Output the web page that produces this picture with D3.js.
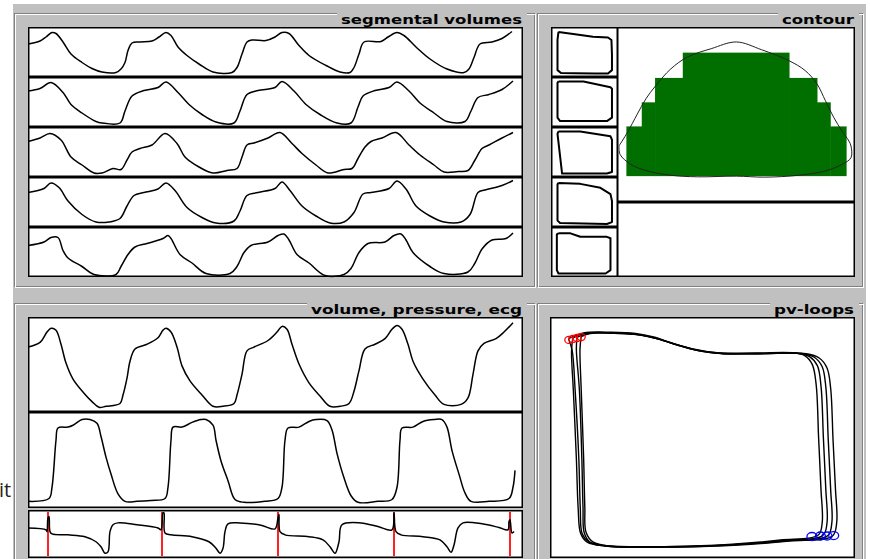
<!DOCTYPE html>
<html lang="en">
<head>
<meta charset="UTF-8">
<title>segmental volumes</title>
<script src="https://cdnjs.cloudflare.com/ajax/libs/d3/7.8.5/d3.min.js"></script>
<style>
    html, body {
        margin: 0;
        padding: 0;
        background: #fff;
    }

    svg {
        display: block;
    }

    .title {
        font-family: "DejaVu Sans", sans-serif;
        font-weight: bold;
        font-size: 12.5px;
    }
</style>
</head>
<body>
<script>
    // traces: [sample, % of channel range]
    let seg1 = [[0,66],[12,72],[18,80],[24,89],[28,87],[35,70],[43,46],[54,29],[64,17],[74,10],[88,9],[93,16],[97,29],[100,53],[104,68],[112,70],[124,72],[131,80],[138,89],[143,83],[150,60],[159,43],[171,26],[185,10],[204,9],[209,19],[214,46],[219,70],[224,74],[238,73],[247,80],[254,89],[261,87],[271,63],[281,43],[298,23],[312,10],[322,9],[326,19],[331,46],[336,70],[353,71],[360,80],[369,89],[376,83],[388,60],[402,36],[419,16],[436,9],[441,16],[446,39],[452,66],[464,70],[474,77],[484,91]];
    let seg2 = [[0,72],[12,77],[23,89],[35,69],[43,45],[54,28],[68,11],[74,8],[92,8],[97,32],[104,62],[116,73],[130,79],[138,90],[150,69],[161,45],[174,25],[188,10],[206,8],[212,32],[219,65],[230,73],[247,79],[254,91],[266,72],[278,45],[292,25],[309,8],[323,8],[330,40],[335,62],[347,73],[361,79],[369,90],[381,72],[392,48],[406,28],[419,11],[437,11],[443,32],[450,59],[461,65],[474,75],[485,92]];
    let seg3 = [[0,71],[12,78],[22,87],[33,74],[43,40],[54,24],[66,8],[74,8],[85,17],[93,15],[99,34],[104,50],[112,57],[124,64],[137,87],[149,67],[157,40],[171,20],[185,8],[199,13],[209,17],[214,40],[219,64],[226,68],[240,78],[252,89],[264,67],[274,47],[288,24],[300,8],[316,15],[324,17],[330,37],[337,60],[343,71],[354,78],[368,89],[381,64],[392,44],[406,24],[416,10],[430,11],[440,13],[447,34],[454,57],[461,64],[474,78],[485,89]];
    let seg4 = [[0,69],[16,77],[23,88],[31,79],[40,52],[54,25],[68,10],[81,10],[92,17],[99,42],[106,63],[116,69],[130,76],[138,88],[147,73],[159,39],[174,19],[188,8],[206,12],[212,32],[219,63],[230,69],[247,77],[254,90],[262,73],[274,42],[288,22],[302,8],[316,10],[326,29],[335,66],[343,69],[361,77],[369,92],[378,76],[388,42],[402,22],[416,10],[433,10],[442,25],[450,69],[457,74],[474,83],[485,93]];
    let seg5 = [[0,63],[16,70],[23,79],[30,79],[35,53],[40,38],[54,21],[66,5],[88,5],[93,21],[100,45],[107,60],[119,67],[135,77],[140,83],[143,77],[152,45],[164,28],[178,7],[202,7],[209,21],[216,49],[223,63],[240,70],[250,83],[256,86],[261,74],[269,45],[281,28],[297,3],[316,5],[323,17],[331,49],[340,67],[357,70],[366,83],[373,86],[378,74],[385,49],[402,21],[416,7],[440,10],[447,28],[454,56],[464,74],[478,77],[485,88]];

    let volume = [[0,68],[12,73],[19,84],[23,88],[28,86],[33,71],[38,51],[45,34],[56,19],[64,10],[71,4],[78,5],[92,8],[95,17],[99,35],[102,53],[107,66],[119,71],[130,78],[135,86],[138,88],[143,84],[149,68],[154,48],[162,32],[174,17],[185,5],[195,5],[206,8],[209,17],[214,39],[219,64],[226,68],[240,75],[249,84],[254,90],[259,87],[264,71],[271,50],[281,30],[292,16],[302,5],[312,5],[321,8],[326,21],[331,43],[337,66],[347,71],[357,77],[364,87],[369,91],[374,87],[380,71],[385,53],[395,34],[407,17],[416,7],[433,7],[440,14],[445,39],[450,64],[456,72],[468,77],[476,84],[485,94]];
    let pressure = [[0,6],[21,9],[24,21],[28,71],[30,84],[40,85],[45,87],[54,93],[62,93],[69,89],[73,75],[78,53],[83,35],[90,14],[97,6],[109,6],[123,7],[137,9],[140,21],[143,71],[145,85],[154,85],[164,90],[173,93],[178,93],[185,87],[188,71],[193,49],[200,28],[207,8],[216,5],[237,6],[250,9],[254,21],[257,71],[260,84],[271,85],[281,91],[288,93],[299,92],[304,82],[309,57],[316,31],[323,12],[330,5],[350,6],[364,8],[369,21],[372,71],[374,84],[385,85],[395,91],[406,93],[414,93],[419,85],[424,60],[431,35],[437,15],[443,6],[461,6],[481,9],[485,21],[487,39]];
    let ecg = [[0,61],[18,57],[19,53],[20,83],[21,86],[22,53],[24,48],[40,46],[57,42],[68,31],[73,20],[77,6],[80,9],[82,53],[85,68],[90,72],[109,68],[130,61],[133,57],[135,94],[136,94],[137,50],[143,46],[164,42],[181,31],[188,17],[192,6],[195,17],[197,53],[200,70],[212,72],[233,67],[247,59],[250,83],[251,90],[252,53],[257,46],[281,42],[295,35],[302,20],[307,6],[311,31],[314,68],[333,72],[350,64],[364,57],[366,94],[368,53],[373,46],[395,42],[412,35],[419,20],[423,8],[426,24],[430,61],[435,72],[454,70],[471,62],[480,57],[481,75],[482,79],[484,50],[486,53]];
    let rWaves = [20, 134, 250, 366, 482];

    // pv-loops: [volume %, pressure %], one per beat
    let pvLoop1 = [[5.8,91.3],[10.8,93.7],[20,94],[28,93.5],[34,92],[40,89.5],[47,87],[55,85.4],[68,85.3],[80,85.4],[84,84.2],[86.5,80.5],[87.8,72],[88.6,50],[89.4,28],[89.8,14],[88.5,8.8],[76,6.7],[60,5],[40,4],[18.5,4.3],[12.5,6],[10.3,9.5],[9.7,20.2],[9.2,41.3],[8,69.5],[7,86.4],[5.8,91.3]];
    let pvLoop2 = [[7.2,91.6],[11.5,93.6],[20,93.8],[28,93.2],[35,91.4],[41,89],[48,86.6],[56,85.2],[68,85.1],[81.5,85.2],[85.6,83.8],[88.2,80],[89.4,71.5],[90.2,49.5],[91,28],[91.4,14],[90,8.6],[77,6.5],[60,4.8],[40,3.9],[18,4.2],[12,5.8],[9.8,9.6],[9,20],[8.4,41],[7.4,69.5],[6.8,86],[7.2,91.6]];
    let pvLoop3 = [[8.6,91.9],[12,93.5],[20,93.6],[29,93],[36,91],[42,88.6],[49,86.2],[57,85],[69,85],[83,85.1],[87.2,83.5],[89.8,79.5],[91,71],[91.8,49],[92.6,28],[93,14],[91.6,8.5],[78,6.4],[61,4.7],[41,3.8],[19,4.1],[13,5.7],[11,9.8],[10.6,20.4],[10.2,41.5],[9.4,69.8],[8.4,86.8],[8.6,91.9]];
    let pvLoop4 = [[10,92.2],[13,93.5],[21,93.6],[30,92.8],[37,90.6],[43,88.2],[50,86],[58,85],[70,85],[84.5,85],[88.8,83.2],[91.4,79],[92.6,70.5],[93.4,48.5],[94.2,28],[94.6,14],[93.2,8.4],[79,6.3],[62,4.6],[42,3.8],[20,4.1],[14,5.8],[11.6,10],[11.2,20.5],[10.8,41.5],[10,70],[9.6,87],[10,92.2]];
    let endSystole = [[5.9,90.8],[7.2,91.2],[8.6,91.6],[10,92]];
    let endDiastole = [[86.4,8.2],[89.2,8.4],[91.4,8.4],[93.6,8.6]];

    // small segmental loops next to the contour
    let segLoop1 = [[11.5,90],[37,85],[64.6,80],[87.7,78.6],[93,73.5],[93.8,43],[93.8,12],[87.7,5],[67.7,5],[37,5.5],[15.4,6],[10,12],[10,43],[10,73.5],[11.5,90]];
    let segLoop2 = [[11.5,91],[50,91],[91.5,79],[93.8,76],[93.8,17],[86,10],[14,10],[10,17],[10,88],[11.5,91]];
    let segLoop3 = [[11.5,91],[45,91],[91.5,81],[93.8,74],[93.8,8],[86,5],[17,5],[16.8,8],[10,86],[11.5,91]];
    let segLoop4 = [[11.5,88],[45,86],[76,78],[91.5,65],[93.8,51],[93.8,8],[86,4],[14,6],[10,11],[10,85],[11.5,88]];
    let segLoop5 = [[11.5,87],[30,87],[45,80],[86,80],[91.5,77],[91.5,12],[84,5],[11.5,5],[9,12],[9,85],[11.5,87]];

    // contour: outline and wall steps
    let contourLine = [[0.4,30.8],[4,38.6],[8.3,49.4],[11.9,58.1],[16.2,65.9],[22.7,75.7],[29.9,82.6],[40,87.4],[50.8,91.3],[61.6,86.8],[73.1,80.6],[80.3,74.7],[85.4,66.9],[89,57.2],[92.6,47.4],[96.1,39.6],[99.1,33.7],[100,30.8],[100,24],[96.1,20.1],[89,16.3],[77.5,13.8],[63,12.7],[50.8,13.3],[34.2,12.9],[22.7,13.8],[12.6,16.3],[5.5,20.1],[0.9,25.9],[0.4,30.8]];
    let stepEdges = [3.6, 10.2, 15.9, 27.8, 73.4, 85.4, 91.1, 97.9];
    let stepHeights = [42.2, 56.2, 70.4, 85.1, 70.4, 56.2, 42.2];
    let stepBase = 13.3;

    let titles = ["segmental volumes", "contour", "volume, pressure, ecg", "pv-loops"];

    let width = 870, height = 559;
    let svg = d3.select("body").append("svg").attr("width", width).attr("height", height);

    svg.append("rect").attr("x", 13).attr("y", 4).attr("width", 853).attr("height", 560).attr("fill", "#c0c0c0");

    function groove(x0, y0, x1, y1) {
        svg.append("rect").attr("x", x0 + 0.5).attr("y", y0 + 0.5).attr("width", x1 - x0 - 1).attr("height", y1 - y0 - 1)
            .attr("fill", "none").attr("stroke", "#808080");
        svg.append("rect").attr("x", x0 + 1.5).attr("y", y0 + 1.5).attr("width", x1 - x0 - 1).attr("height", y1 - y0 - 1)
            .attr("fill", "none").attr("stroke", "#fff");
    }

    function title(text, xStart, xEnd, baseline) {
        svg.append("rect").attr("x", xStart - 4).attr("y", baseline - 12).attr("width", xEnd - xStart + 9).attr("height", 8)
            .attr("fill", "#c0c0c0");
        svg.append("text").attr("class", "title").attr("x", xStart).attr("y", baseline)
            .attr("textLength", xEnd - xStart).attr("lengthAdjust", "spacingAndGlyphs").text(text);
    }

    function box(x0, y0, x1, y1) {
        svg.append("rect").attr("x", x0 + 0.75).attr("y", y0 + 0.75).attr("width", x1 - x0 - 1.5).attr("height", y1 - y0 - 1.5)
            .attr("fill", "#fff").attr("stroke", "#000").attr("stroke-width", 1.5);
    }

    groove(14, 13, 535, 287);
    groove(537, 13, 863, 287);
    groove(14, 303, 535, 580);
    groove(537, 303, 863, 580);

    title(titles[0], 341, 522, 23.5);
    title(titles[1], 782, 854, 23.5);
    title(titles[2], 311, 522, 313.5);
    title(titles[3], 774, 854, 313.5);

    let time = d3.scaleLinear().domain([0, 494]).range([28, 522]);
    let smooth = d3.curveCatmullRom.alpha(0.5);

    function trace(data, top, bottom) {
        let y = d3.scaleLinear().domain([0, 100]).range([bottom, top]);
        svg.append("path").datum(data)
            .attr("d", d3.line().curve(smooth).x(d => time(d[0])).y(d => y(d[1])))
            .attr("fill", "none").attr("stroke", "#000").attr("stroke-width", 1.5).attr("stroke-linejoin", "round");
    }

    // segmental volumes
    let segTops = [27, 77, 127, 177, 227];
    let segs = [seg1, seg2, seg3, seg4, seg5];
    segTops.forEach(top => box(28, top, 523, top + 50));
    segTops.forEach((top, i) => trace(segs[i], top, top + 50));

    // small loops
    let segLoops = [segLoop1, segLoop2, segLoop3, segLoop4, segLoop5];
    let loopX = d3.scaleLinear().domain([0, 100]).range([551, 616]);
    segTops.forEach(top => box(551, top, 618, top + 50));
    segTops.forEach((top, i) => {
        let loopY = d3.scaleLinear().domain([0, 100]).range([top + 49, top]);
        svg.append("path").datum(segLoops[i])
            .attr("d", d3.line().x(d => loopX(d[0])).y(d => loopY(d[1])))
            .attr("fill", "none").attr("stroke", "#000").attr("stroke-width", 2).attr("stroke-linejoin", "round");
    });

    // contour
    box(617, 27, 855, 202);
    box(617, 202, 855, 277);
    svg.append("clipPath").attr("id", "contourClip").append("rect")
        .attr("x", 618.5).attr("y", 28.5).attr("width", 235).attr("height", 172);
    let cx = d3.scaleLinear().domain([0, 100]).range([618, 851]);
    let cy = d3.scaleLinear().domain([0, 100]).range([199, 27]);
    let cg = svg.append("g").attr("clip-path", "url(#contourClip)");
    cg.selectAll("rect.step").data(stepHeights).join("rect")
        .attr("class", "step")
        .attr("x", (d, i) => cx(stepEdges[i]))
        .attr("width", (d, i) => cx(stepEdges[i + 1]) - cx(stepEdges[i]) + 0.5)
        .attr("y", d => cy(d))
        .attr("height", d => cy(stepBase) - cy(d))
        .attr("fill", "#006f00");
    cg.append("path").datum(contourLine)
        .attr("d", d3.line().curve(smooth).x(d => cx(d[0])).y(d => cy(d[1])))
        .attr("fill", "none").attr("stroke", "#222").attr("stroke-width", 1);

    // volume, pressure, ecg
    box(28, 317, 523, 412);
    box(28, 412, 523, 508);
    box(28, 510, 523, 558);
    trace(volume, 317, 411);
    trace(pressure, 413, 507);
    svg.selectAll("line.rwave").data(rWaves).join("line")
        .attr("class", "rwave")
        .attr("x1", d => time(d)).attr("x2", d => time(d))
        .attr("y1", 512).attr("y2", 556)
        .attr("stroke", "#f22").attr("stroke-width", 2);
    trace(ecg, 510, 556);

    // pv-loops
    box(550, 317, 855, 558);
    let pvX = d3.scaleLinear().domain([0, 100]).range([551, 853]);
    let pvY = d3.scaleLinear().domain([0, 100]).range([556, 318]);
    [pvLoop1, pvLoop2, pvLoop3, pvLoop4].forEach(loop => {
        svg.append("path").datum(loop)
            .attr("d", d3.line().curve(smooth).x(d => pvX(d[0])).y(d => pvY(d[1])))
            .attr("fill", "none").attr("stroke", "#000").attr("stroke-width", 1.4);
    });
    svg.selectAll("ellipse.es").data(endSystole).join("ellipse")
        .attr("class", "es")
        .attr("cx", d => pvX(d[0])).attr("cy", d => pvY(d[1]))
        .attr("rx", 4).attr("ry", 3.5)
        .attr("fill", "none").attr("stroke", "#f00").attr("stroke-width", 1.3);
    svg.selectAll("ellipse.ed").data(endDiastole).join("ellipse")
        .attr("class", "ed")
        .attr("cx", d => pvX(d[0])).attr("cy", d => pvY(d[1]))
        .attr("rx", 5).attr("ry", 4)
        .attr("fill", "none").attr("stroke", "#00f").attr("stroke-width", 1.3);

    // stray label at the left edge
    svg.append("text").attr("x", -1).attr("y", 497)
        .style("font-family", "'Open Sans', sans-serif").style("font-size", "20px").attr("fill", "#222")
        .text("it");
</script>
</body>
</html>
